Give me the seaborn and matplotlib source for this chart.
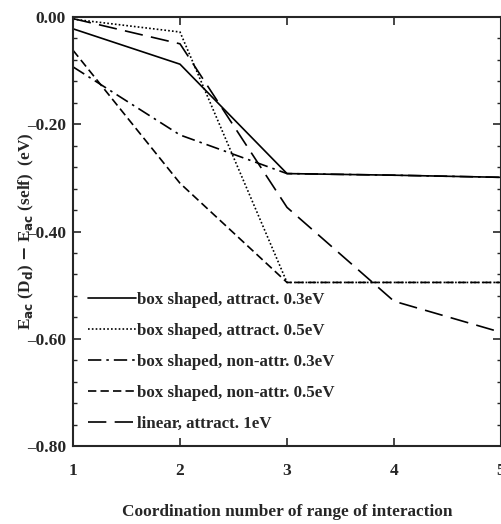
import matplotlib
matplotlib.use("Agg")
import matplotlib.pyplot as plt
import seaborn as sns
import numpy as np
import pandas as pd
from matplotlib.ticker import MultipleLocator, FixedLocator

# Data
coord = [1, 2, 3, 4, 5]
box_attr_03 = [-0.022, -0.088, -0.292, -0.295, -0.299]
box_attr_05 = [-0.004, -0.028, -0.495, -0.495, -0.495]
box_nonattr_03 = [-0.093, -0.220, -0.292, -0.295, -0.299]
box_nonattr_05 = [-0.062, -0.310, -0.495, -0.495, -0.495]
linear_attr_1 = [-0.003, -0.050, -0.355, -0.530, -0.588]

labels = ["box shaped, attract. 0.3eV",
          "box shaped, attract. 0.5eV",
          "box shaped, non-attr. 0.3eV",
          "box shaped, non-attr. 0.5eV",
          "linear, attract. 1eV"]
series = [box_attr_03, box_attr_05, box_nonattr_03, box_nonattr_05, linear_attr_1]
yticks = [0.0, -0.2, -0.4, -0.6, -0.8]
yticklabels = ["0.00", "\u20130.20", "\u20130.40", "\u20130.60", "\u20130.80"]

sns.set_style("ticks")
plt.rcParams['font.family'] = ['Liberation Serif', 'DejaVu Serif']
plt.rcParams['font.weight'] = 'bold'
plt.rcParams['axes.labelweight'] = 'bold'

fig = plt.figure(figsize=(5.02, 5.24), dpi=100)
ax = fig.add_axes([73/502, 1-446/524, 428/502, 429/524])

dash_styles = [(None, None), (1, 1.3), (8, 3, 1.5, 3), (5, 2.5), (11, 5)]
for vals, lab, ds in zip(series, labels, dash_styles):
    df = pd.DataFrame({"x": coord, "y": vals})
    sns.lineplot(data=df, x="x", y="y", ax=ax, color="black", lw=1.2, label=lab)
    l = ax.get_lines()[-1]
    if ds[0] is not None:
        l.set_dashes(ds)

ax.set_xlim(1, 5)
ax.set_ylim(-0.8, 0.0)
ax.xaxis.set_major_locator(FixedLocator(coord))
ax.yaxis.set_minor_locator(MultipleLocator(0.04))
ax.set_yticks(yticks)
ax.set_yticklabels(yticklabels)
ax.tick_params(axis='both', which='major', direction='in', length=6, width=1.2, labelsize=12.5)
ax.tick_params(axis='y', which='major', pad=5)
ax.tick_params(axis='x', which='major', pad=12)
ax.tick_params(axis='y', which='minor', direction='in', length=3, width=1.0)
ax.tick_params(axis='y', which='both', right=True)
ax.tick_params(axis='x', which='both', top=True)
for lbl in ax.get_xticklabels() + ax.get_yticklabels():
    lbl.set_fontweight('bold')
for s in ax.spines.values():
    s.set_linewidth(1.5)
    s.set_visible(True)

ax.set_xlabel("Coordination number of range of interaction", fontsize=12.4, fontweight='bold', labelpad=18)
ax.set_ylabel(r"E$_{\mathbf{ac}}$ (D$_{\mathbf{d}}$) $-$ E$_{\mathbf{ac}}$ (self)  (eV)", fontsize=12.4, fontweight='bold')
ax.yaxis.set_label_coords(-0.086, 0.5)

leg = ax.legend(loc='upper left', bbox_to_anchor=(0.02, 0.375), frameon=False, fontsize=12.2,
                handlelength=2.8, handletextpad=0.1, labelspacing=0.89, borderaxespad=0)
for t in leg.get_texts():
    t.set_fontweight('bold')

fig.savefig("out.png", dpi=100)
